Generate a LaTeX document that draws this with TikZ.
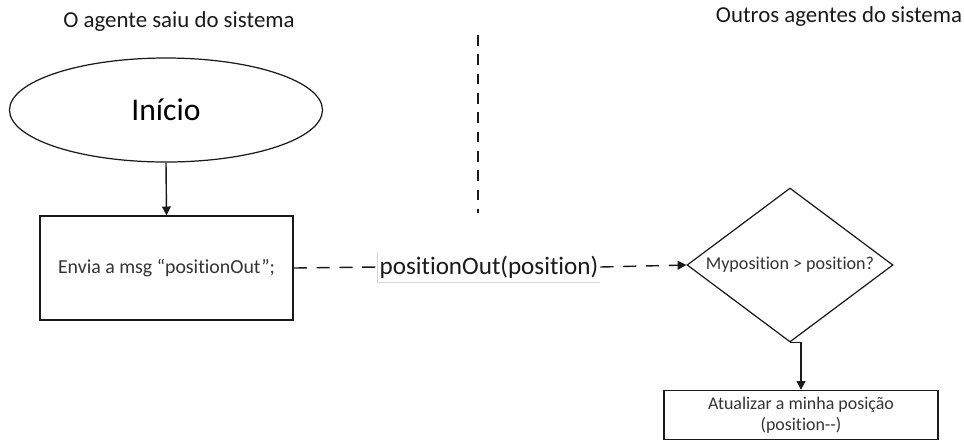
\documentclass[tikz,border=0pt]{standalone}
\usepackage{fontspec}
\setmainfont{Carlito}[Ligatures=NoCommon]
\usetikzlibrary{shapes.geometric,arrows.meta}
\definecolor{ink}{HTML}{1A1A1A}
\definecolor{boxtxt}{HTML}{333333}
\definecolor{faint}{HTML}{D8D8D8}

\tikzset{
  flowline/.style={draw=ink, line width=0.8pt},
  arr/.style={flowline, -{Triangle[length=5pt,width=5pt]}},
  msgline/.style={flowline, dash pattern=on 7.5pt off 5.5pt},
}

\begin{document}
\begin{tikzpicture}[font=\rmfamily]

\useasboundingbox (0,0) rectangle (19.28,-8.82);

% column headings
\node[font=\fontsize{13}{15}\selectfont, color=ink] (hleft) at (3.58,-0.44)
  {O agente saiu do sistema};
\node[font=\fontsize{13}{15}\selectfont, color=ink] (hright) at (16.78,-0.34)
  {Outros agentes do sistema};

% separator between the two sides
\draw[ink, line width=0.8pt, dash pattern=on 6pt off 5pt] (9.56,-0.70) -- (9.56,-4.26);

% left side: start and send
\node[ellipse, draw=ink, line width=0.7pt, minimum width=6.26cm,
      minimum height=2.08cm, inner sep=0, font=\fontsize{18}{20}\selectfont]
  (start) at (3.32,-2.20) {Início};
\node[rectangle, draw=ink, line width=0.8pt, minimum width=5.06cm,
      minimum height=2.08cm, inner sep=0, font=\fontsize{11.3}{13}\selectfont,
      text=boxtxt] (send) at (3.33,-5.36) {Envia a msg “positionOut”;};

% message label on the dashed link
\node[minimum width=4.44cm, minimum height=0.6cm, inner sep=0,
      font=\fontsize{14.3}{16}\selectfont, text=ink] (msg) at (9.78,-5.34)
  {positionOut(position)};
\draw[faint, line width=0.5pt] (msg.north west) -- (msg.south west) -- (msg.south east);

% right side: test and update
\node[diamond, shape aspect=1.34, draw=ink, line width=0.7pt,
      minimum width=4.12cm, minimum height=3.08cm, inner sep=0,
      font=\fontsize{10.3}{12}\selectfont, text=boxtxt]
  (test) at (15.80,-5.30) {Myposition > position?};
\node[rectangle, draw=ink, line width=0.8pt, minimum width=5.48cm,
      minimum height=0.98cm, inner sep=0, align=center,
      font=\fontsize{10.2}{12}\selectfont, text=boxtxt] (upd) at (16.02,-8.30)
  {Atualizar a minha posição\\(position-{}-)};

\draw[arr] (start.south) -- (send.north);
\draw[msgline] (send.east) -- (msg.west);
\draw[msgline, -{Triangle[length=5pt,width=5pt]}] (msg.east) -- (test.west);
\draw[arr] (test.south) -| (upd.north);

\end{tikzpicture}
\end{document}
